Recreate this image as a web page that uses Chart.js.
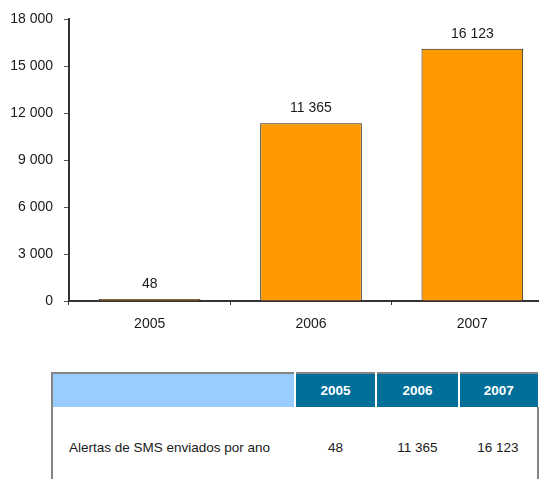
<!DOCTYPE html>
<html>
<head>
<meta charset="utf-8">
<script src="https://cdn.jsdelivr.net/npm/chart.js@4/dist/chart.umd.min.js"></script>
<style>
  html, body { margin: 0; padding: 0; background: #fff; overflow: hidden; width: 539px; height: 479px; }
  #wrap { position: absolute; left: 0; top: 0; width: 560px; height: 345px; }
  #tbl {
    position: absolute; left: 51px; top: 372px;
    border-collapse: collapse; border-spacing: 0; table-layout: fixed;
    border-left: 2px solid #858585; border-top: 2px solid #858585;
    font-family: "Liberation Sans", Arial, sans-serif; font-size: 13.5px; color: #1a1a1a;
  }
  #tbl th { height: 33px; padding: 0; font-weight: bold; color: #fff; background: #006f9a; border-left: 2px solid #fff; text-align: center; }
  #tbl th.blank { background: #99ccff; border-left: none; border-right: 1px solid #fff; }
  #tbl td { height: 80px; padding: 0; text-align: center; }
  #tbl td.lbl { text-align: left; padding-left: 16px; }
  #tbl td:last-child { border-right: 2px solid #858585; }
</style>
</head>
<body>
<div id="wrap"><canvas id="c"></canvas></div>
<table id="tbl">
  <thead><tr id="hdr"><th class="blank" style="width:243px"></th></tr></thead>
  <tbody><tr id="row"></tr></tbody>
</table>
<script>
// Yearly count of SMS alerts sent
const years = ['2005', '2006', '2007'];
const alertsSent = [48, 11365, 16123];
const rowLabel = 'Alertas de SMS enviados por ano';
const yTicks = [0, 3000, 6000, 9000, 12000, 15000, 18000];

// thousands separated by a space
const fmt = v => String(v).replace(/\B(?=(\d{3})+(?!\d))/g, ' ');

// Table under the chart
const colWidths = [80, 81, 79];
const hdr = document.getElementById('hdr');
const row = document.getElementById('row');
const lbl = document.createElement('td');
lbl.className = 'lbl';
lbl.textContent = rowLabel;
row.appendChild(lbl);
years.forEach((y, i) => {
  const th = document.createElement('th');
  th.style.width = colWidths[i] + 'px';
  th.textContent = y;
  hdr.appendChild(th);
  const td = document.createElement('td');
  td.textContent = fmt(alertsSent[i]);
  row.appendChild(td);
});

const font = { family: '"Liberation Sans", Arial, sans-serif', size: 14 };

// Value printed above each bar
const valueLabels = {
  id: 'valueLabels',
  afterDatasetsDraw(chart) {
    const ctx = chart.ctx;
    const meta = chart.getDatasetMeta(0);
    ctx.save();
    ctx.font = '14px "Liberation Sans", Arial, sans-serif';
    ctx.fillStyle = '#1a1a1a';
    ctx.textAlign = 'center';
    ctx.textBaseline = 'bottom';
    meta.data.forEach((bar, i) => {
      ctx.fillText(fmt(chart.data.datasets[0].data[i]), bar.x, bar.y - 8);
    });
    ctx.restore();
  }
};

const axisColor = '#333';

new Chart(document.getElementById('c'), {
  type: 'bar',
  data: {
    labels: years,
    datasets: [{
      data: alertsSent,
      backgroundColor: '#ff9900',
      borderColor: '#222',
      borderWidth: 1,
      minBarLength: 2,
      categoryPercentage: 1,
      barPercentage: 0.63
    }]
  },
  options: {
    responsive: true,
    maintainAspectRatio: false,
    animation: false,
    layout: { padding: { top: 19, right: 7, bottom: 0, left: 0 } },
    plugins: { legend: { display: false }, tooltip: { enabled: false } },
    scales: {
      x: {
        offset: true,
        grid: { display: true, drawOnChartArea: false, offset: true, tickLength: 4, color: axisColor, lineWidth: 1 },
        border: { display: true, color: axisColor, width: 2 },
        ticks: { color: '#1a1a1a', font, padding: 11 },
        afterFit(scale) { scale.height = 44; }
      },
      y: {
        min: 0,
        max: 18000,
        afterBuildTicks(scale) { scale.ticks = yTicks.map(v => ({ value: v })); },
        grid: { display: true, drawOnChartArea: false, tickLength: 5, color: '#555', lineWidth: 1 },
        border: { display: true, color: axisColor, width: 2 },
        ticks: { color: '#1a1a1a', font, padding: 11, callback: v => fmt(v) },
        afterFit(scale) { scale.width = 69; }
      }
    }
  },
  plugins: [valueLabels]
});
</script>
</body>
</html>
